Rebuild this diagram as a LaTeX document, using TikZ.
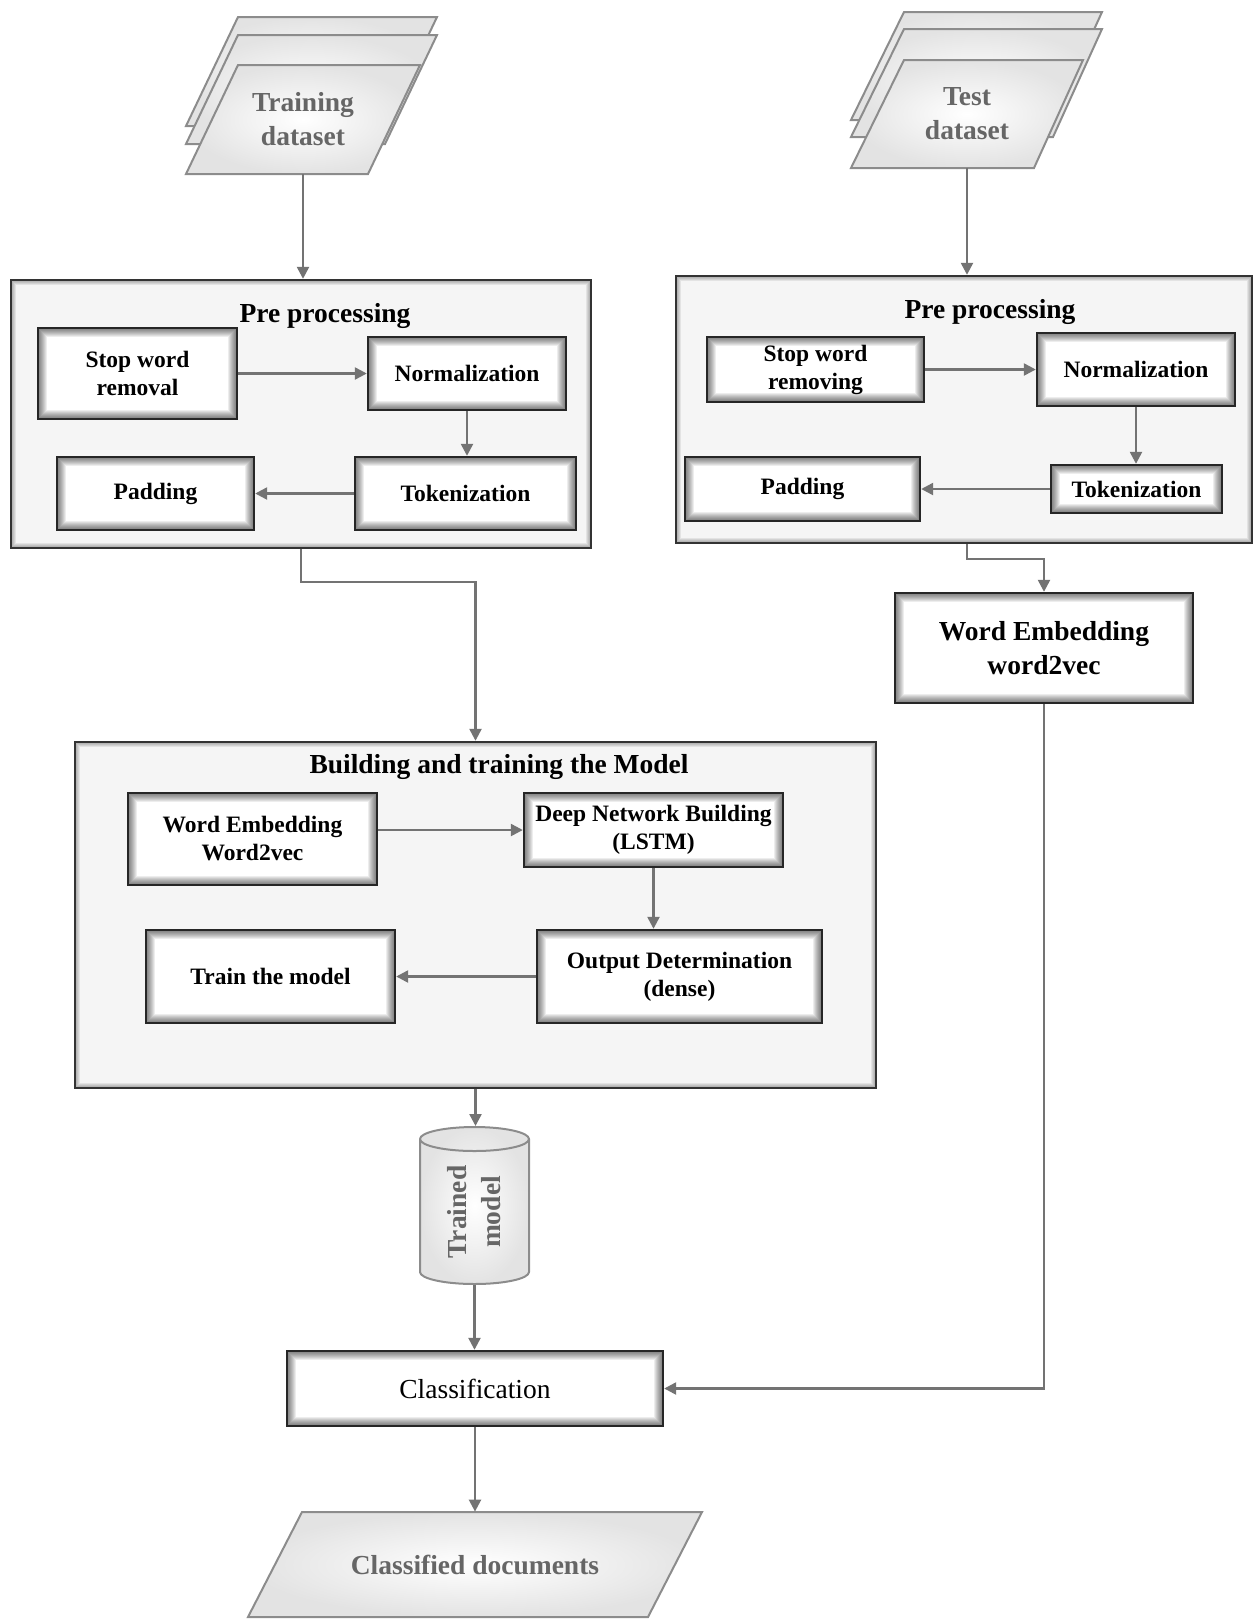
\documentclass[tikz,border=0pt]{standalone}
\usepackage{fontspec}
\setmainfont{Liberation Serif}
\usetikzlibrary{arrows.meta,shapes.geometric}
\newcommand{\bigtext}{\bfseries\fontsize{13.75}{17}\selectfont}
\newcommand{\smalltext}{\bfseries\fontsize{11.75}{14}\selectfont}
\begin{document}
\begin{tikzpicture}[x=0.5pt, y=-0.5pt,
  every node/.style={align=center, inner sep=0pt, font=\smalltext},
  glow/.style={path picture={\foreach \k in {1,...,#1}
      \draw[black, opacity=0.07, line width=\k*1pt] (path picture bounding box.south west) rectangle (path picture bounding box.north east);}},
  frame/.style={draw=black!80, line width=1.2pt, fill=black!4, glow=5},
  procbox/.style={draw=black!85, line width=1.2pt, fill=white, glow=9},
  sheet/.style={draw=black!45, line width=1pt, inner color=white, outer color=black!11},
  sheettext/.style={font=\bigtext, text=black!60},
  drum/.style={cylinder, rotate=90, aspect=0.45, draw=black!45, line width=1pt, inner color=white, outer color=black!11, font=\bigtext, text=black!60},
  heading/.style={font=\bigtext},
  link/.style={draw=black!55, line width=1.2pt, -{Triangle[length=6pt, width=6pt]}}]
\useasboundingbox (0,0) rectangle (1254,1619);

% input data stacks
\foreach \dy in {48,30}
  \draw[sheet] (186,174-\dy) -- (238,65-\dy) -- (437,65-\dy) -- (385,174-\dy) -- cycle;
\draw[sheet] (186,174) -- (238,65) -- (420,65) -- (368,174) -- cycle;
\node[sheettext, minimum width=117pt, minimum height=54.5pt] (dtrain) at (303,119.5) {Training\\dataset};
\foreach \dy in {48,31}
  \draw[sheet] (851,168-\dy) -- (904,60-\dy) -- (1102,60-\dy) -- (1053,168-\dy) -- cycle;
\draw[sheet] (851,168) -- (904,60) -- (1083,60) -- (1034,168) -- cycle;
\node[sheettext, minimum width=116pt, minimum height=54pt] (dtest) at (967,114) {Test\\dataset};

% pre processing (training side)
\node[frame, minimum width=290pt, minimum height=134pt] (pre1) at (301,414) {};
\node[heading] (head1) at (325,316) {Pre processing};
\node[procbox, minimum width=99.5pt, minimum height=45.5pt] (stop1) at (137.5,373.5) {Stop word\\removal};
\node[procbox, minimum width=99pt, minimum height=36.5pt] (norm1) at (467,373.5) {Normalization};
\node[procbox, minimum width=110.5pt, minimum height=36.5pt] (tok1) at (465.5,493.5) {Tokenization};
\node[procbox, minimum width=98.5pt, minimum height=36.5pt] (pad1) at (155.5,493.5) {Padding};

% pre processing (test side)
\node[frame, minimum width=288pt, minimum height=133.5pt] (pre2) at (964,409.5) {};
\node[heading] (head2) at (990,312) {Pre processing};
\node[procbox, minimum width=108.5pt, minimum height=32.5pt] (stop2) at (815.5,369.5) {Stop word\\removing};
\node[procbox, minimum width=99pt, minimum height=36.5pt] (norm2) at (1136,369.5) {Normalization};
\node[procbox, minimum width=85.5pt, minimum height=24pt] (tok2) at (1136.5,489) {Tokenization};
\node[procbox, minimum width=117.5pt, minimum height=32pt] (pad2) at (802.5,489) {Padding};
\node[procbox, font=\bigtext, minimum width=149pt, minimum height=55pt] (emb2) at (1044,648) {Word Embedding\\word2vec};

% model building
\node[frame, minimum width=400.5pt, minimum height=173pt] (build) at (475.5,915) {};
\node[heading] (head3) at (499,767) {Building and training the Model};
\node[procbox, minimum width=124.5pt, minimum height=46pt] (emb1) at (252.5,839) {Word Embedding\\Word2vec};
\node[procbox, minimum width=129.5pt, minimum height=37pt] (lstm) at (653.5,830) {Deep Network Building\\(LSTM)};
\node[procbox, minimum width=142.5pt, minimum height=46.5pt] (dense) at (679.5,976.5) {Output Determination\\(dense)};
\node[procbox, minimum width=124.5pt, minimum height=46.5pt] (fit) at (270.5,976.5) {Train the model};

% model and output
\node[drum, minimum width=54.5pt, minimum height=78.5pt] (model) at (474.5,1212) {Trained\\model};
\node[procbox, font=\fontsize{13.75}{17}\selectfont, minimum width=188pt, minimum height=37.5pt] (cls) at (475,1388.5) {Classification};
\draw[sheet] (248,1617) -- (302,1512) -- (702,1512) -- (648,1617) -- cycle;
\node[sheettext, minimum width=227pt, minimum height=52.5pt] (docs) at (475,1564.5) {Classified documents};

% connectors
\draw[link] (dtrain.south) -- (dtrain.south |- pre1.north);
\draw[link] (dtest.south) -- (dtest.south |- pre2.north);
\draw[link] (stop1) -- (norm1);
\draw[link] (norm1) -- (norm1 |- tok1.north);
\draw[link] (tok1) -- (pad1);
\draw[link] (stop2) -- (norm2);
\draw[link] (norm2) -- (norm2 |- tok2.north);
\draw[link] (tok2) -- (pad2);
\draw[link] (pre1.south) -- ++(0,33) -| (build.north);
\draw[link] (dtest.south |- pre2.south) -- ++(0,15) -| (emb2.north);
\draw[link] (emb1.east |- lstm) -- (lstm.west);
\draw[link] (lstm) -- (lstm |- dense.north);
\draw[link] (dense) -- (fit);
\draw[link] (build.south) -- (build.south |- model.top);
\draw[link] (model.bottom) -- (model.bottom |- cls.north);
\draw[link] (emb2.south) |- (cls.east);
\draw[link] (cls) -- (cls |- docs.north);
\end{tikzpicture}
\end{document}
